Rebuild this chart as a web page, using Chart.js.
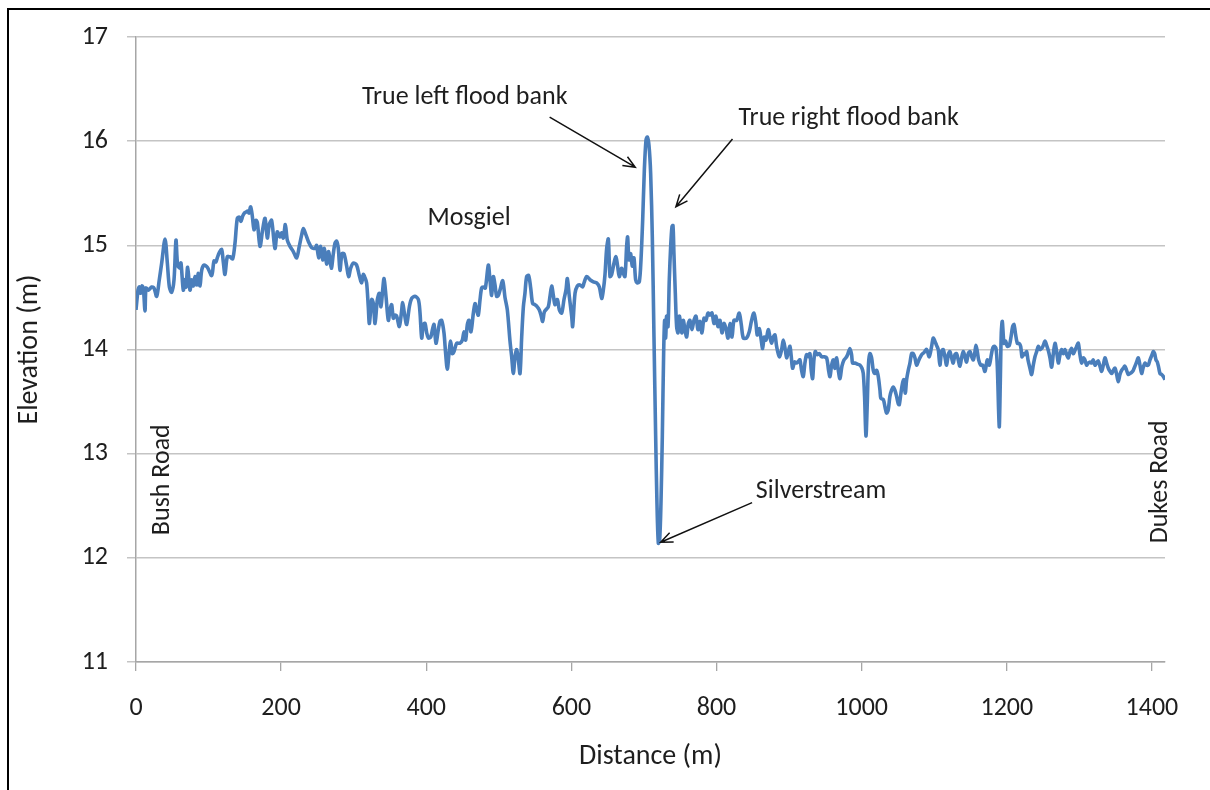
<!DOCTYPE html>
<html>
<head>
<meta charset="utf-8">
<script src="https://cdn.jsdelivr.net/npm/chart.js@4/dist/chart.umd.min.js"></script>
<style>
  html, body { margin: 0; padding: 0; background: #fff; overflow: hidden; }
  #frame { position: absolute; left: 7px; top: 8px; width: 1300px; height: 900px; border: 2.5px solid #000; }
  #wrap { position: absolute; left: 0; top: 0; width: 1210px; height: 790px; }
</style>
</head>
<body>
<div id="frame"></div>
<div id="wrap"><canvas id="chart" width="1210" height="790"></canvas></div>
<script>
// long section, Bush Road -> Dukes Road
const distance = [
  0, 2.8, 4.6, 6.4, 8.3, 10.1, 12.4, 13.8, 17, 21.6, 24.8, 28.5, 32.1, 35.4, 40, 43.2, 46, 49.1, 52.4, 55.1,
  57.4, 60.6, 62, 65.2, 67.5, 68.9, 71.2, 74.4, 76.7, 79, 81.3, 83.6, 85.9, 88.2, 90.5, 93.7, 98.3, 104.3, 107.5, 110.2,
  112, 114.8, 118, 120.3, 122.6, 125.8, 129.5, 133.2, 136.4, 139.6, 142.4, 144.7, 147, 149.3, 151.6, 153.9, 155.7, 158, 160.3, 162.6,
  165.3, 167.2, 170.9, 174.5, 177.8, 181, 183.7, 186.9, 191.5, 194.7, 198.4, 200.7, 203, 205.8, 208.5, 212.2, 216.8, 221.4, 225, 228.3,
  230.6, 234.2, 237.4, 242, 246.6, 248.9, 251.7, 254.5, 257.2, 259.5, 262.7, 265.5, 269.1, 271.9, 274.2, 276.5, 278.8, 281.1, 283.8, 286.6,
  290.3, 293, 295.8, 299.4, 304, 307.7, 310.9, 313.2, 315.5, 317.8, 320.1, 321.6, 324.8, 327.1, 329.4, 332.6, 335.3, 337.6, 339.9, 341.8,
  344.5, 347.7, 350, 352.3, 354.6, 356.9, 359.2, 362.9, 365.7, 367.5, 369.8, 373, 376.7, 379.9, 384.5, 389.1, 391.4, 393.7, 396, 398.3,
  400.6, 402.9, 406.1, 408.8, 410.7, 413.4, 416.6, 418.9, 421.2, 424.4, 426.7, 429, 431.3, 433.6, 435.9, 438.2, 441.9, 446.5, 449.7, 452,
  454.3, 456.6, 458.9, 461.6, 464.9, 467.2, 469.4, 471.7, 474.1, 476.3, 478.6, 481.4, 485.5, 487.8, 490.1, 492.4, 494.7, 497, 499.3, 501.6,
  505.3, 508.5, 511.7, 515.4, 517.7, 520, 522.3, 524.6, 526.9, 529.2, 531.5, 533.8, 536, 538.3, 541.1, 543.9, 546.6, 549.8, 553, 555.8,
  558.1, 560.4, 562.7, 565.9, 568.2, 570.5, 572.8, 575.1, 577.4, 580.6, 583.4, 586.6, 589.8, 592.5, 594.4, 597.1, 600.4, 601.7, 605, 608.2,
  611.8, 615.5, 617.4, 621, 625.6, 630.2, 634.8, 638.5, 641.7, 644, 646.3, 648.6, 650.9, 653.2, 655.5, 658.7, 661.4, 663.7, 666, 669.2,
  671.5, 673.8, 676.1, 677.5, 679.3, 681.6, 683.9, 686.2, 688.5, 690.8, 693.6, 695.9, 698.2, 700.5, 702.8, 704.6, 706.9, 709.2, 711.5, 713.8,
  716.1, 717.9, 719.8, 721.6, 723.4, 725.3, 727.1, 728.5, 729.9, 731.2, 733.1, 734.9, 736.8, 738.6, 740, 741.3, 743.2, 745, 746.9, 748.7,
  750.5, 752.4, 754.2, 756.5, 758.8, 761.1, 763.4, 766.1, 768.9, 771.7, 774.4, 777.2, 779.9, 782.7, 785.4, 788.2, 791, 793.7, 796.5, 799.2,
  802, 804.7, 807.5, 810.2, 813, 815.8, 818.5, 821.3, 824, 827.7, 831.3, 834.1, 836.9, 841.4, 845.1, 848.3, 851.5, 854.3, 856.1, 858.9,
  861.6, 863.5, 865.8, 868.1, 871.3, 873.6, 875.9, 878.2, 880.5, 882.8, 886.5, 889.7, 892, 894.7, 896.6, 898.9, 901.2, 903, 904.8, 907.6,
  910.3, 913.1, 914.9, 917.2, 919.5, 921.8, 924.1, 926.4, 928.7, 930.5, 932.4, 934.2, 936.1, 938.8, 941.6, 944.8, 948, 951.7, 954.4, 956.3,
  958.6, 960.9, 963.2, 965.5, 967.8, 970.1, 972.8, 975.6, 978.3, 980.6, 983.8, 986.1, 987.5, 990.7, 993.9, 997.6, 1000.4, 1002.2, 1004, 1005.9,
  1007.7, 1009.5, 1011.4, 1013.7, 1016, 1018.3, 1020.6, 1022.9, 1025.2, 1026.5, 1029.8, 1032.1, 1034.3, 1036.6, 1038.9, 1041.2, 1043.5, 1045.8, 1048.1, 1050.4,
  1051.8, 1054.1, 1056.4, 1058.2, 1060.1, 1061.9, 1064.2, 1066.5, 1068.8, 1071.1, 1073.4, 1075.7, 1078.9, 1082.6, 1085.8, 1089.5, 1093.1, 1096.4, 1098.6, 1100.9,
  1103.2, 1105.5, 1107.8, 1110.1, 1112.4, 1114.7, 1117, 1119.3, 1121.6, 1123.9, 1126.2, 1128.5, 1130.8, 1133.1, 1135.4, 1137.7, 1140, 1142.3, 1144.6, 1146.9,
  1149.3, 1151.6, 1153.9, 1156.1, 1157.5, 1159.4, 1161.2, 1164, 1166.7, 1169.9, 1173.1, 1175.9, 1178.7, 1180.5, 1182.8, 1185.1, 1186.9, 1188.8, 1189.7, 1191.1,
  1192.4, 1193.8, 1196.1, 1198.4, 1200.7, 1203.5, 1205.8, 1208, 1209.9, 1212.2, 1214.5, 1216.8, 1219.1, 1220.9, 1222.7, 1224.6, 1227.3, 1229.2, 1231.9, 1234.2,
  1236.5, 1238.8, 1241.1, 1243.4, 1245.7, 1248, 1250.3, 1252.6, 1254.9, 1257.2, 1259.5, 1261.8, 1264.1, 1266.4, 1268.7, 1271, 1273.3, 1275.6, 1277.9, 1280.2,
  1282.5, 1284.8, 1287.1, 1289.4, 1291.6, 1293.9, 1296.2, 1298.5, 1300.8, 1303.1, 1305.4, 1307.7, 1310, 1312.3, 1314.6, 1316.9, 1319.2, 1321.5, 1323.8, 1326.1,
  1328.4, 1330.7, 1333, 1335.3, 1337.6, 1339.9, 1342.2, 1344.5, 1346.8, 1349.1, 1351.4, 1353.6, 1355.9, 1358.2, 1360.5, 1362.8, 1365.1, 1367.4, 1369.7, 1372,
  1374.3, 1376.6, 1378.9, 1381.2, 1383.5, 1385.8, 1388.1, 1390.4, 1392.7, 1395, 1397.3, 1399.6, 1401.9, 1403.7, 1405.6, 1407.4, 1409.2, 1411.1, 1413.4, 1415.7,
  1418
];
const elevation = [
  14.38, 14.57, 14.60, 14.54, 14.61, 14.59, 14.37, 14.59, 14.57, 14.60, 14.59, 14.51, 14.67, 14.83, 15.06, 14.83, 14.60, 14.55, 14.67, 15.05,
  14.81, 14.78, 14.83, 14.57, 14.67, 14.60, 14.79, 14.57, 14.67, 14.61, 14.70, 14.62, 14.73, 14.61, 14.76, 14.81, 14.79, 14.71, 14.85, 14.84,
  14.88, 14.93, 14.96, 14.84, 14.72, 14.89, 14.89, 14.87, 15.02, 15.26, 15.27, 15.23, 15.28, 15.31, 15.32, 15.33, 15.31, 15.37, 15.28, 15.15,
  15.24, 15.22, 14.99, 15.15, 15.26, 15.07, 15.20, 15.24, 14.97, 15.13, 15.08, 15.12, 15.07, 15.20, 15.05, 14.99, 14.94, 14.88, 14.99, 15.10,
  15.16, 15.10, 15.04, 14.98, 14.97, 15.00, 14.88, 14.99, 14.86, 14.97, 14.82, 14.94, 14.78, 14.92, 15.02, 15.04, 14.97, 14.76, 14.92, 14.92,
  14.80, 14.70, 14.78, 14.83, 14.81, 14.71, 14.64, 14.72, 14.69, 14.64, 14.41, 14.25, 14.48, 14.44, 14.25, 14.48, 14.54, 14.41, 14.57, 14.68,
  14.51, 14.28, 14.38, 14.43, 14.30, 14.33, 14.32, 14.22, 14.35, 14.45, 14.35, 14.24, 14.41, 14.49, 14.51, 14.48, 14.35, 14.11, 14.24, 14.25,
  14.16, 14.11, 14.12, 14.20, 14.24, 14.06, 14.19, 14.27, 14.28, 14.16, 13.96, 13.81, 13.96, 14.08, 13.96, 13.98, 14.06, 14.06, 14.09, 14.17,
  14.09, 14.24, 14.28, 14.17, 14.35, 14.44, 14.38, 14.33, 14.48, 14.59, 14.60, 14.59, 14.81, 14.67, 14.52, 14.70, 14.62, 14.51, 14.52, 14.57,
  14.66, 14.50, 14.38, 14.08, 13.93, 13.77, 13.93, 14.00, 13.90, 13.77, 14.12, 14.41, 14.54, 14.70, 14.71, 14.59, 14.44, 14.43, 14.41, 14.38,
  14.33, 14.27, 14.36, 14.39, 14.41, 14.51, 14.61, 14.52, 14.43, 14.48, 14.38, 14.35, 14.48, 14.57, 14.68, 14.51, 14.32, 14.22, 14.54, 14.61,
  14.62, 14.60, 14.64, 14.70, 14.67, 14.65, 14.64, 14.60, 14.49, 14.57, 14.72, 14.97, 15.06, 14.70, 14.72, 14.83, 14.89, 14.80, 14.70, 14.78,
  14.73, 14.70, 14.99, 15.08, 14.86, 14.92, 14.80, 14.88, 14.67, 14.64, 14.65, 14.86, 15.24, 15.72, 16.01, 16.04, 15.96, 15.69, 15.08, 14.12,
  13.17, 12.53, 12.14, 12.17, 12.52, 13.17, 13.96, 14.28, 14.11, 14.32, 14.22, 14.67, 14.99, 15.18, 15.19, 14.92, 14.54, 14.22, 14.16, 14.32,
  14.25, 14.16, 14.28, 14.19, 14.12, 14.25, 14.28, 14.19, 14.28, 14.32, 14.19, 14.27, 14.16, 14.30, 14.28, 14.35, 14.33, 14.35, 14.25, 14.32,
  14.22, 14.28, 14.16, 14.25, 14.20, 14.11, 14.25, 14.12, 14.28, 14.28, 14.35, 14.24, 14.11, 14.11, 14.17, 14.28, 14.35, 14.25, 14.14, 14.20,
  14.09, 14.01, 14.12, 14.09, 14.19, 14.12, 14.06, 14.12, 14.14, 14.03, 13.93, 14.00, 14.09, 14.00, 13.92, 13.98, 14.03, 13.93, 13.82, 13.88,
  13.87, 13.89, 13.90, 13.80, 13.74, 13.87, 13.95, 13.93, 13.96, 13.80, 13.72, 13.90, 13.98, 13.95, 13.96, 13.93, 13.93, 13.92, 13.80, 13.74,
  13.85, 13.90, 13.82, 13.92, 13.80, 13.72, 13.84, 13.90, 13.92, 13.95, 14.01, 13.95, 13.87, 13.87, 13.86, 13.85, 13.82, 13.77, 13.55, 13.17,
  13.48, 13.87, 13.96, 13.92, 13.80, 13.77, 13.80, 13.74, 13.61, 13.53, 13.52, 13.45, 13.39, 13.42, 13.55, 13.61, 13.64, 13.61, 13.55, 13.48,
  13.47, 13.58, 13.68, 13.71, 13.58, 13.71, 13.80, 13.87, 13.96, 13.96, 13.92, 13.85, 13.90, 13.95, 13.97, 14.00, 13.93, 14.03, 14.11, 14.08,
  14.04, 14.00, 13.85, 13.98, 14.00, 13.93, 13.85, 13.95, 13.98, 13.92, 13.87, 13.95, 13.96, 13.90, 13.84, 13.92, 13.98, 13.93, 13.88, 13.96,
  13.98, 13.93, 13.90, 13.98, 14.04, 13.98, 13.90, 13.85, 13.85, 13.79, 13.90, 13.85, 13.95, 14.01, 14.03, 14.01, 13.84, 13.39, 13.26, 13.71,
  14.16, 14.27, 14.06, 14.08, 14.03, 14.04, 14.12, 14.22, 14.24, 14.14, 14.06, 14.06, 14.03, 13.93, 13.96, 13.95, 13.98, 13.90, 13.82, 13.76,
  13.85, 13.93, 13.98, 14.03, 14.00, 14.01, 14.04, 14.08, 14.04, 13.99, 13.92, 13.83, 13.96, 14.06, 13.98, 13.87, 13.95, 14.00, 13.96, 14.00,
  13.95, 13.92, 13.98, 14.01, 13.96, 13.99, 14.03, 14.06, 13.95, 13.87, 13.92, 13.90, 13.85, 13.87, 13.88, 13.87, 13.90, 13.85, 13.87, 13.89,
  13.84, 13.79, 13.85, 13.92, 13.87, 13.82, 13.79, 13.77, 13.80, 13.82, 13.76, 13.69, 13.76, 13.80, 13.82, 13.84, 13.80, 13.76, 13.77, 13.78,
  13.80, 13.84, 13.88, 13.92, 13.85, 13.77, 13.83, 13.87, 13.85, 13.85, 13.90, 13.94, 13.98, 13.96, 13.90, 13.88, 13.83, 13.77, 13.76, 13.74,
  13.71
];

const xTicks = [0, 200, 400, 600, 800, 1000, 1200, 1400];
const yTicks = [11, 12, 13, 14, 15, 16, 17];

// labels and arrows, placed in data units
const notes = [
  { text: 'True left flood bank', x: 453, y: 16.42, from: [570, 16.23], to: [688, 15.75] },
  { text: 'True right flood bank', x: 982, y: 16.22, from: [822, 16.02], to: [744, 15.37] },
  { text: 'Mosgiel', x: 459, y: 15.26 },
  { text: 'Silverstream', x: 944, y: 12.64, from: [849, 12.53], to: [723, 12.15] },
  { text: 'Bush Road', x: 36, y: 12.75, rotate: true },
  { text: 'Dukes Road', x: 1412, y: 12.73, rotate: true }
];

const FONT = "Carlito, Calibri, Lato, sans-serif";

const notesPlugin = {
  id: 'notes',
  afterDraw(chart) {
    const ctx = chart.ctx;
    const xs = chart.scales.x, ys = chart.scales.y;
    ctx.save();
    ctx.fillStyle = '#1e1e1e';
    ctx.strokeStyle = '#111';
    ctx.lineWidth = 1.5;
    ctx.font = '26px ' + FONT;
    ctx.textAlign = 'center';
    ctx.textBaseline = 'middle';
    notes.forEach(n => {
      const px = xs.getPixelForValue(n.x), py = ys.getPixelForValue(n.y);
      if (n.rotate) {
        ctx.save();
        ctx.translate(px, py);
        ctx.rotate(-Math.PI / 2);
        ctx.fillText(n.text, 0, 0);
        ctx.restore();
      } else {
        ctx.fillText(n.text, px, py);
      }
      if (n.from) {
        const x1 = xs.getPixelForValue(n.from[0]), y1 = ys.getPixelForValue(n.from[1]);
        const x2 = xs.getPixelForValue(n.to[0]), y2 = ys.getPixelForValue(n.to[1]);
        const a = Math.atan2(y2 - y1, x2 - x1);
        ctx.beginPath();
        ctx.moveTo(x1, y1);
        ctx.lineTo(x2, y2);
        ctx.moveTo(x2 - 13 * Math.cos(a - 0.4), y2 - 13 * Math.sin(a - 0.4));
        ctx.lineTo(x2, y2);
        ctx.lineTo(x2 - 13 * Math.cos(a + 0.4), y2 - 13 * Math.sin(a + 0.4));
        ctx.stroke();
      }
    });
    ctx.restore();
  }
};

new Chart(document.getElementById('chart').getContext('2d'), {
  type: 'line',
  data: {
    datasets: [{
      data: distance.map((d, i) => ({ x: d, y: elevation[i] })),
      borderColor: '#4a7ebb',
      borderWidth: 3.6,
      pointRadius: 0,
      tension: 0.3,
      fill: false
    }]
  },
  options: {
    responsive: false,
    animation: false,
    devicePixelRatio: 1,
    layout: { padding: { left: 0, top: 37, right: 45, bottom: 0 } },
    plugins: { legend: { display: false }, tooltip: { enabled: false } },
    scales: {
      x: {
        type: 'linear',
        min: 0,
        max: 1418,
        afterFit(scale) { scale.height = 128; },
        afterBuildTicks(scale) { scale.ticks = xTicks.map(v => ({ value: v })); },
        ticks: { includeBounds: false, padding: 22, color: '#1e1e1e', font: { family: FONT, size: 26 }, callback: v => String(v) },
        grid: { drawOnChartArea: false, drawTicks: true, tickLength: 9, color: '#a6a6a6', lineWidth: 1.3 },
        border: { color: '#a6a6a6', width: 1.5 },
        title: { display: true, text: 'Distance (m)', color: '#1e1e1e', font: { family: FONT, size: 28 }, padding: { bottom: 16 } }
      },
      y: {
        min: 11,
        max: 17,
        afterFit(scale) { scale.width = 136; },
        afterBuildTicks(scale) { scale.ticks = yTicks.map(v => ({ value: v })); },
        ticks: { padding: 19, color: '#1e1e1e', font: { family: FONT, size: 26 }, callback: v => String(v) },
        grid: { color: '#c4c4c4', lineWidth: 1.5, drawTicks: true, tickLength: 9 },
        border: { color: '#a6a6a6', width: 1.5 },
        title: { display: true, text: 'Elevation (m)', color: '#1e1e1e', font: { family: FONT, size: 28 }, padding: { top: 13 } }
      }
    }
  },
  plugins: [notesPlugin]
});
</script>
</body>
</html>
